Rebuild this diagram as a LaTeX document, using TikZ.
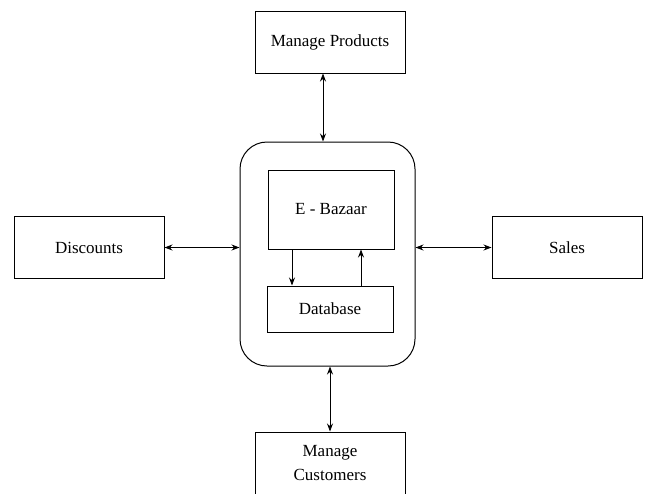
\documentclass[tikz,border=0pt]{standalone}
\usepackage{fontspec}
\setmainfont{Liberation Serif}
\usetikzlibrary{positioning,arrows.meta}

\begin{document}
\begin{tikzpicture}[x=1pt, y=-1pt,
				block/.style={rectangle, draw=black!100, line width=1pt, minimum width=150pt, minimum height=62pt, align=center, font=\rmfamily\fontsize{17}{24}\selectfont},
				inner/.style={rectangle, draw=black!100, line width=1pt, minimum width=126pt, font=\rmfamily\fontsize{17}{24}\selectfont},
				system/.style={rectangle, rounded corners=27pt, draw=black!100, line width=1pt, minimum width=175pt, minimum height=224pt}
			]
			\useasboundingbox (0,0) rectangle (647,493);
			\node[system] (system) at (327.5,254) {};
			\node[inner, minimum height=79pt] (bazaar) at (331,209.5) {E - Bazaar};
			\node[inner, minimum height=46pt] (database) at (330,309) {Database};
			\node[block] (products) at (330,42) {Manage Products};
			\node[block] (discounts) at (89,247.5) {Discounts};
			\node[block] (sales) at (567,247.5) {Sales};
			\node[block, minimum height=63pt] (customers) at (330,463.5) {Manage\\Customers};
			\begin{scope}[line width=0.9pt, {Stealth[length=8pt,width=6pt]}-{Stealth[length=8pt,width=6pt]}]
			\draw ([xshift=-7pt]products.south) -- ([xshift=-7pt]products.south |- system.north);
			\draw (discounts.east) -- (discounts.east -| system.west);
			\draw (sales.west) -- (sales.west -| system.east);
			\draw (customers.north) -- (customers.north |- system.south);
			\end{scope}
			\begin{scope}[line width=0.9pt, -{Stealth[length=8pt,width=6pt]}]
			\draw ([xshift=-39pt]bazaar.south) -- ([xshift=-39pt]bazaar.south |- database.north);
			\draw ([xshift=31pt]database.north) -- ([xshift=31pt]database.north |- bazaar.south);
			\end{scope}
			\end{tikzpicture}
\end{document}
